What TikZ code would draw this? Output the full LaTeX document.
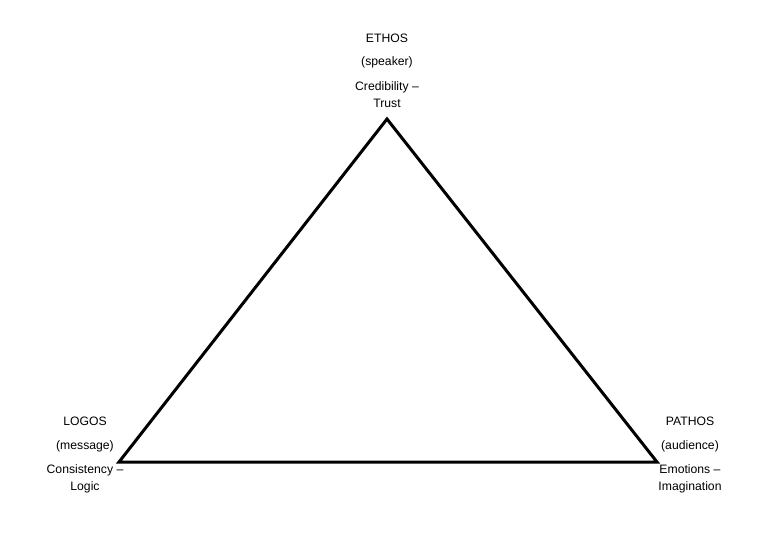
\documentclass[tikz,border=0pt]{standalone}
\usepackage{fontspec}
\setmainfont{Liberation Sans}
\begin{document}
\begin{tikzpicture}[x=1pt,y=-1pt,
  lbl/.style={font=\fontsize{12.2}{17}\selectfont, align=center, inner sep=0pt, anchor=center},
  edge/.style={line width=3pt, line join=miter}]
\useasboundingbox (0,0) rectangle (768,543);
\coordinate (E) at (387,119);
\coordinate (L) at (119,462);
\coordinate (P) at (657,462);
\draw[edge] (E) -- (L) -- (P) -- cycle;
\node[lbl] (e1) at (387,38) {ETHOS};
\node[lbl] (e2) at (387,62) {(speaker)};
\node[lbl] (e3) at (387,95) {Credibility –\\Trust};
\node[lbl] (l1) at (85,421) {LOGOS};
\node[lbl] (l2) at (85,446) {(message)};
\node[lbl] (l3) at (85,479) {Consistency –\\Logic};
\node[lbl] (p1) at (690,421) {PATHOS};
\node[lbl] (p2) at (690,446) {(audience)};
\node[lbl] (p3) at (690,479) {Emotions –\\Imagination};
\end{tikzpicture}
\end{document}
